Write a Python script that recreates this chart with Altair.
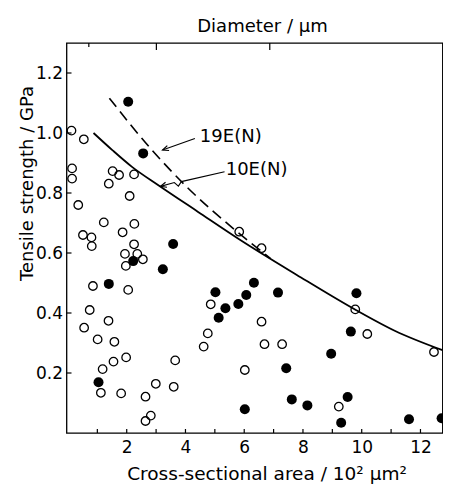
import altair as alt
import pandas as pd

# ---------------- data ----------------
open_x = [0.12, 0.54, 0.14, 0.14, 0.35, 1.52, 1.74, 1.39, 2.25, 2.10,
          1.22, 2.26, 1.86, 0.51, 0.80, 0.81, 2.25, 1.94, 2.36, 2.55,
          1.97, 5.83, 6.59, 0.85, 2.05, 0.74, 0.55, 1.38, 1.01, 1.58,
          1.55, 1.98, 1.18, 1.12, 1.81, 2.64, 2.99, 3.60, 3.65, 2.82,
          2.64, 4.62, 4.76, 4.86, 6.02, 6.59, 6.69, 7.29, 9.22, 9.78,
          10.19, 12.46]
open_y = [1.008, 0.979, 0.882, 0.848, 0.760, 0.873, 0.860, 0.831, 0.862, 0.790,
          0.702, 0.697, 0.669, 0.660, 0.652, 0.623, 0.629, 0.597, 0.597, 0.579,
          0.557, 0.671, 0.616, 0.490, 0.477, 0.410, 0.351, 0.374, 0.312, 0.304,
          0.238, 0.252, 0.213, 0.134, 0.132, 0.121, 0.164, 0.154, 0.242, 0.058,
          0.040, 0.288, 0.332, 0.429, 0.210, 0.371, 0.296, 0.296, 0.088, 0.412,
          0.330, 0.270]

filled_x = [2.05, 2.56, 3.58, 2.22, 3.23, 1.39, 1.04, 5.02, 5.13, 5.36,
            5.80, 6.07, 6.02, 6.33, 7.15, 7.43, 7.62, 8.15, 8.96, 9.30,
            9.52, 9.63, 9.82, 11.61, 12.72]
filled_y = [1.104, 0.932, 0.630, 0.573, 0.546, 0.497, 0.169, 0.469, 0.384, 0.416,
            0.430, 0.460, 0.079, 0.501, 0.468, 0.216, 0.112, 0.092, 0.264, 0.034,
            0.120, 0.338, 0.466, 0.046, 0.049]

curve10_x = [0.87, 1.51, 2.18, 3.09, 4.43, 5.84, 7.79, 9.80, 11.14, 12.75]
curve10_y = [1.000, 0.943, 0.887, 0.825, 0.737, 0.645, 0.527, 0.410, 0.340, 0.276]

curve19_x = [1.41, 2.86, 4.09, 5.55, 6.89]
curve19_y = [1.116, 0.943, 0.816, 0.688, 0.582]

# annotation labels and arrows
label_text = ["19E(N)", "10E(N)"]
label_x = [4.49, 5.37]
label_y = [0.988, 0.877]

arrow19_x = [4.32, 3.22]
arrow19_y = [0.982, 0.943]
arrow10_x = [5.33, 3.86, 3.76, 3.62, 3.15]
arrow10_y = [0.871, 0.838, 0.823, 0.835, 0.822]
head_x = [3.22, 3.15]
head_y = [0.943, 0.822]
head_angle = [160, 164]

# axis ticks
x_tick_values = [1, 2, 3, 4, 5, 6, 7, 8, 9, 10, 11, 12]
x_label_values = [2, 4, 6, 8, 10, 12]
y_label_values = [0.2, 0.4, 0.6, 0.8, 1.0, 1.2]
top_major_ticks = [3.01, 6.87]
top_minor_ticks = [0.71]

# ---------------- chart ----------------
FONT = "DejaVu Sans"
W, H = 376, 390
xscale = alt.Scale(domain=[-0.05, 12.75], nice=False, zero=False)
yscale = alt.Scale(domain=[0, 1.3], nice=False, zero=False)

x_axis = alt.Axis(
    values=x_label_values, format="d", ticks=False, domain=False, grid=False,
    labelFont=FONT, labelFontSize=17, labelColor="black", labelPadding=6,
    title="Cross-sectional area / 10² µm²", titleFont=FONT, titleFontSize=18.5,
    titleFontWeight="normal", titleColor="black", titleX=200, titleY=46,
    titleBaseline="alphabetic", titleAlign="center")
y_axis = alt.Axis(
    values=y_label_values, format=".1f", ticks=False, domain=False, grid=False,
    labelFont=FONT, labelFontSize=17, labelColor="black", labelPadding=4,
    title="Tensile strength / GPa", titleFont=FONT, titleFontSize=18,
    titleFontWeight="normal", titleColor="black", titleX=-34.5, titleY=140,
    titleAngle=270, titleBaseline="alphabetic", titleAlign="center")


def X(field="x"):
    return alt.X(f"{field}:Q", scale=xscale, axis=x_axis)


def Y(field="y"):
    return alt.Y(f"{field}:Q", scale=yscale, axis=y_axis)


open_df = pd.DataFrame({"x": open_x, "y": open_y})
filled_df = pd.DataFrame({"x": filled_x, "y": filled_y})
c10_df = pd.DataFrame({"x": curve10_x, "y": curve10_y, "o": list(range(len(curve10_x)))})
c19_df = pd.DataFrame({"x": curve19_x, "y": curve19_y, "o": list(range(len(curve19_x)))})
lab_df = pd.DataFrame({"t": label_text, "x": label_x, "y": label_y})
a19_df = pd.DataFrame({"x": arrow19_x, "y": arrow19_y, "o": list(range(len(arrow19_x)))})
a10_df = pd.DataFrame({"x": arrow10_x, "y": arrow10_y, "o": list(range(len(arrow10_x)))})
head_df = pd.DataFrame({"x": head_x, "y": head_y, "a": head_angle})

open_pts = alt.Chart(open_df).mark_point(
    shape="circle", filled=False, size=72, color="black", strokeWidth=1.3, opacity=1
).encode(x=X(), y=Y())

filled_pts = alt.Chart(filled_df).mark_point(
    shape="circle", filled=True, size=100, color="black", opacity=1
).encode(x=X(), y=Y())

c10 = alt.Chart(c10_df).mark_line(color="black", strokeWidth=1.8, interpolate="monotone").encode(
    x=X(), y=Y(), order="o:Q")
c19 = alt.Chart(c19_df).mark_line(color="black", strokeWidth=1.6, strokeDash=[11, 6],
                                  interpolate="monotone").encode(
    x=X(), y=Y(), order="o:Q")

labels = alt.Chart(lab_df).mark_text(
    font=FONT, fontSize=18, align="left", baseline="middle", color="black"
).encode(x=X(), y=Y(), text="t:N")

a19 = alt.Chart(a19_df).mark_line(color="black", strokeWidth=1.1).encode(
    x=X(), y=Y(), order="o:Q")
a10 = alt.Chart(a10_df).mark_line(color="black", strokeWidth=1.1).encode(
    x=X(), y=Y(), order="o:Q")
heads = alt.Chart(head_df).mark_point(
    shape="M -1.5 -0.65 L 0 0 L -1.5 0.65", filled=False, size=64,
    color="black", strokeWidth=1.2, opacity=1
).encode(x=X(), y=Y(), angle=alt.Angle("a:Q", scale=None))

xticks = alt.Chart(pd.DataFrame({"v": x_tick_values})).mark_rule(
    color="black", strokeWidth=1.2).encode(
    x=X("v"), y=alt.value(H), y2=alt.value(H - 4))
yticks = alt.Chart(pd.DataFrame({"v": y_label_values})).mark_rule(
    color="black", strokeWidth=1.2).encode(
    y=Y("v"), x=alt.value(0), x2=alt.value(5))
top_major = alt.Chart(pd.DataFrame({"v": top_major_ticks})).mark_rule(
    color="black", strokeWidth=1.2).encode(
    x=X("v"), y=alt.value(0), y2=alt.value(7))
top_minor = alt.Chart(pd.DataFrame({"v": top_minor_ticks})).mark_rule(
    color="black", strokeWidth=1.2).encode(
    x=X("v"), y=alt.value(0), y2=alt.value(4))

chart = alt.layer(
    open_pts, filled_pts, c10, c19, a19, a10, heads, labels,
    xticks, yticks, top_major, top_minor
).properties(
    width=W, height=H,
    title=alt.TitleParams("Diameter / µm", font=FONT, fontSize=18, fontWeight="normal",
                          color="black", anchor="middle", frame="group", dx=8, dy=20,
                          offset=12, baseline="alphabetic"),
    padding={"left": 58.5, "top": 35, "right": 0, "bottom": 52},
    autosize=alt.AutoSizeParams(type="none"),
).configure_view(
    stroke="black", strokeWidth=1.3
)

chart.save("out.html", embed_options={"renderer": "svg", "actions": False})
